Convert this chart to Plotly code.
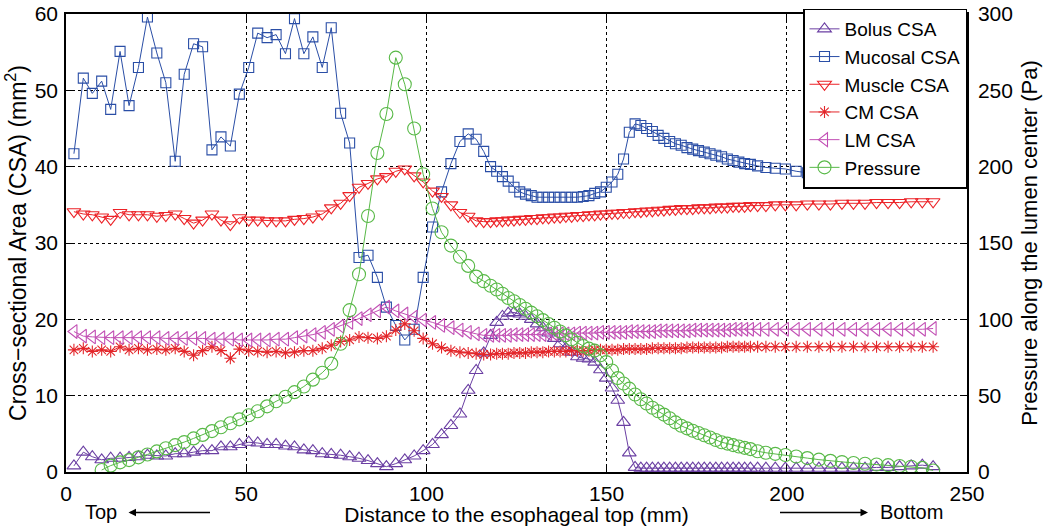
import plotly.graph_objects as go

# Distance along the esophagus (mm) — sampling grid shared by all series
dist_mm = [2.2, 4.8, 7.3, 9.9, 12.4, 15.0, 17.5, 20.1, 22.6, 25.2,
           27.7, 30.3, 32.8, 35.4, 37.9, 40.5, 43.0, 45.6, 48.1, 50.7,
           53.2, 55.8, 58.3, 60.9, 63.4, 66.0, 68.5, 71.1, 73.6, 76.2,
           78.7, 81.3, 83.8, 86.4, 88.9, 91.5, 94.0, 96.6, 99.1, 101.7,
           104.2, 106.8, 109.3,
           111.6, 113.8, 115.9, 117.8, 119.5,
           121.1, 122.7, 124.3, 125.9, 127.5, 129.1, 130.7, 132.3, 133.9, 135.5,
           137.1, 138.7, 140.3, 141.9, 143.5, 145.1, 146.7, 148.3, 149.9, 151.5,
           153.1, 154.7, 156.3, 157.9, 159.5, 161.1, 162.7, 164.3, 165.9, 167.5,
           169.1, 170.7, 172.3, 173.9, 175.5, 177.1, 178.7, 180.3, 181.9, 183.5,
           185.1, 186.7, 188.3, 189.9,
           191.9, 194.2, 196.8, 199.6, 202.6, 205.7, 208.9, 212.1, 215.3, 218.5,
           221.7, 224.9, 228.1, 231.3, 234.5, 237.6, 240.6]

bolus_csa = [0.8, 2.6, 2.0, 1.6, 1.8, 1.8, 1.9, 2.0, 2.2, 2.1,
             2.1, 2.4, 2.4, 2.6, 2.8, 2.8, 3.3, 3.3, 3.6, 3.9,
             3.8, 3.6, 3.6, 3.4, 3.3, 2.9, 2.8, 2.4, 2.3, 2.2,
             2.0, 1.8, 1.5, 1.1, 0.7, 1.1, 1.6, 2.1, 2.8, 3.6,
             4.9, 6.1, 7.6,
             10.7, 13.3, 15.6, 17.9, 19.6,
             20.4, 20.8, 20.9, 20.7, 20.4, 20.0, 19.4, 18.9, 18.2, 17.5,
             16.8, 16.2, 15.7, 15.1, 14.9, 14.8, 14.4, 13.4, 12.3, 11.0,
             9.4, 6.5, 2.5, 0.6, 0.5, 0.5, 0.5, 0.5, 0.5, 0.5,
             0.5, 0.5, 0.5, 0.5, 0.5, 0.5, 0.5, 0.5, 0.5, 0.5,
             0.5, 0.5, 0.5, 0.5,
             0.5, 0.5, 0.5, 0.5, 0.5, 0.5, 0.5, 0.5, 0.5, 0.5,
             0.5, 0.6, 0.6, 0.7, 0.8, 0.9, 0.7]

mucosal_csa = [41.7, 51.6, 49.6, 51.2, 47.5, 55.1, 48.0, 53.0, 59.6, 54.9,
               51.0, 40.7, 52.1, 56.1, 55.7, 42.2, 43.9, 42.7, 49.5, 53.0,
               57.5, 56.9, 57.3, 54.8, 59.4, 54.8, 57.0, 53.0, 58.2, 47.0,
               43.1, 28.1, 28.4, 25.5, 21.6, 19.2, 17.3, 18.7, 25.5, 32.1,
               36.7, 40.4, 43.3,
               44.3, 43.6, 42.0, 40.0, 39.4,
               38.7, 38.1, 37.3, 36.7, 36.4, 36.2, 36.0, 36.0, 36.0, 36.0,
               36.0, 36.0, 36.0, 36.0, 36.1, 36.2, 36.5, 36.7, 37.3, 38.0,
               39.0, 41.0, 44.5, 45.6, 45.4, 45.0, 44.6, 44.1, 43.7, 43.3,
               43.0, 42.8, 42.5, 42.3, 42.1, 41.9, 41.7, 41.5, 41.3, 41.0,
               40.8, 40.6, 40.4, 40.3,
               40.1, 39.9, 39.8, 39.7, 39.4, 39.2, 39.0, 38.9, 38.8, 38.7,
               38.7, 38.6, 38.5, 38.4, 38.4, 38.3, 39.4]

muscle_csa = [34.1, 33.8, 33.7, 33.4, 33.1, 34.0, 33.7, 33.7, 33.7, 33.5,
              33.6, 33.8, 33.2, 32.6, 33.0, 33.8, 33.0, 32.4, 33.3, 33.0,
              33.0, 32.9, 32.9, 32.9, 33.1, 33.2, 33.4, 33.8, 34.6, 35.2,
              36.2, 37.3, 37.8, 38.4, 38.7, 39.4, 39.7, 38.8, 38.0, 36.8,
              36.1, 35.0, 34.0,
              33.5, 32.9, 32.8, 32.8, 32.9,
              32.9, 33.0, 33.0, 33.1, 33.1, 33.2, 33.2, 33.3, 33.3, 33.4,
              33.4, 33.5, 33.5, 33.6, 33.6, 33.7, 33.7, 33.8, 33.8, 33.9,
              33.9, 34.0, 34.0, 34.1, 34.1, 34.2, 34.2, 34.3, 34.3, 34.4,
              34.4, 34.5, 34.5, 34.5, 34.6, 34.6, 34.6, 34.7, 34.7, 34.7,
              34.8, 34.8, 34.8, 34.9,
              34.9, 34.9, 35.0, 35.0, 35.0, 35.1, 35.1, 35.1, 35.2, 35.2,
              35.2, 35.3, 35.3, 35.3, 35.4, 35.4, 35.4]

cm_csa = [16.0, 16.2, 15.8, 16.0, 15.8, 16.4, 16.0, 16.2, 16.0, 16.1,
          16.0, 16.2, 15.8, 15.3, 15.9, 16.4, 15.9, 14.9, 16.1, 15.9,
          15.8, 15.7, 15.8, 15.6, 15.7, 15.9, 15.9, 16.2, 16.6, 17.1,
          17.3, 17.7, 17.6, 17.5, 17.8, 18.6, 19.4, 18.5, 17.5, 16.8,
          16.3, 15.9, 15.7,
          15.6, 15.5, 15.4, 15.4, 15.5,
          15.5, 15.5, 15.6, 15.6, 15.6, 15.7, 15.7, 15.7, 15.8, 15.8,
          15.8, 15.8, 15.9, 15.9, 15.9, 15.9, 16.0, 16.0, 16.0, 16.0,
          16.0, 16.1, 16.1, 16.1, 16.1, 16.1, 16.2, 16.2, 16.2, 16.2,
          16.2, 16.2, 16.3, 16.3, 16.3, 16.3, 16.3, 16.3, 16.3, 16.4,
          16.4, 16.4, 16.4, 16.4,
          16.4, 16.4, 16.4, 16.4, 16.4, 16.4, 16.4, 16.4, 16.4, 16.4,
          16.4, 16.4, 16.4, 16.4, 16.4, 16.4, 16.4]

lm_csa = [18.4, 17.8, 17.7, 17.6, 17.6, 17.6, 17.6, 17.6, 17.6, 17.6,
          17.5, 17.5, 17.5, 17.5, 17.5, 17.4, 17.4, 17.4, 17.3, 17.3,
          17.3, 17.3, 17.4, 17.4, 17.6, 17.8, 18.0, 18.3, 18.7, 19.1,
          19.6, 20.1, 20.6, 21.1, 21.6, 21.1, 20.7, 20.3, 19.9, 19.6,
          19.2, 18.9, 18.6,
          18.3, 18.1, 17.9, 17.9, 17.9,
          17.9, 17.9, 18.0, 18.0, 18.0, 18.0, 18.0, 18.0, 18.1, 18.1,
          18.1, 18.1, 18.1, 18.2, 18.2, 18.2, 18.2, 18.3, 18.3, 18.3,
          18.3, 18.3, 18.4, 18.4, 18.4, 18.4, 18.4, 18.5, 18.5, 18.5,
          18.5, 18.5, 18.5, 18.6, 18.6, 18.6, 18.6, 18.6, 18.6, 18.6,
          18.7, 18.7, 18.7, 18.7,
          18.7, 18.7, 18.7, 18.7, 18.7, 18.7, 18.7, 18.7, 18.7, 18.7,
          18.7, 18.7, 18.7, 18.7, 18.7, 18.7, 18.8]

pressure_pa = [None, None, None, 1.3, 4.2, 6.3, 7.8, 9.6, 11.5, 13.5,
               15.6, 17.6, 19.6, 22.0, 24.3, 26.8, 29.3, 31.9, 34.5, 37.2,
               39.8, 43.0, 46.3, 49.3, 52.3, 56.0, 60.5, 65.0, 71.0, 84.0,
               106.0, 129.5, 167.7, 209.0, 234.5, 271.4, 254.0, 225.0, 195.0, 172.6,
               157.0, 148.3, 141.0,
               135.0, 128.0, 125.0, 122.0, 119.5,
               116.8, 114.0, 111.8, 109.4, 106.9, 104.4, 102.0, 99.5, 96.9, 94.5,
               92.0, 89.5, 87.0, 84.7, 82.5, 80.8, 79.5, 76.5, 72.0, 66.5,
               61.5, 58.0, 54.6, 50.8, 47.7, 44.9, 42.1, 39.8, 37.6, 35.2,
               32.5, 30.3, 28.6, 27.0, 25.5, 24.1, 22.6, 21.0, 19.5, 18.6,
               17.6, 16.7, 15.8, 15.0,
               13.6, 12.6, 11.9, 11.1, 10.2, 9.1, 8.1, 7.3, 6.5, 5.9,
               5.4, 4.9, 4.5, 3.9, 3.4, 2.7, 1.0]

x_ticks = [0, 50, 100, 150, 200, 250]
csa_ticks = [0, 10, 20, 30, 40, 50, 60]
pressure_ticks = [0, 50, 100, 150, 200, 250, 300]

FONT = "Liberation Sans, Arial, sans-serif"

series = [
    ("Bolus CSA", bolus_csa, "triangle-up-open", "#6b3fa3", 12, "y"),
    ("Mucosal CSA", mucosal_csa, "square-open", "#2a4ea6", 10, "y"),
    ("Muscle CSA", muscle_csa, "triangle-down-open", "#ec2227", 12, "y"),
    ("CM CSA", cm_csa, "asterisk-open", "#e3262a", 10, "y"),
    ("LM CSA", lm_csa, "triangle-left-open", "#c24fb4", 12, "y"),
    ("Pressure", pressure_pa, "circle-open", "#58b947", 13, "y2"),
]

fig = go.Figure()
for name, vals, sym, col, size, yax in series:
    fig.add_trace(go.Scatter(
        x=dist_mm, y=vals, name=name, mode="lines+markers", yaxis=yax,
        line=dict(color=col, width=1),
        marker=dict(symbol=sym, size=size, color=col, line=dict(color=col, width=1.1)),
        connectgaps=False,
    ))

axis_common = dict(
    showline=True, linecolor="black", linewidth=1.5,
    ticks="inside", ticklen=6, tickcolor="black", tickwidth=1,
    tickfont=dict(family=FONT, size=21, color="black"),
    zeroline=False, automargin=False,
)

fig.update_layout(
    width=1050, height=526,
    margin=dict(l=66, r=83, t=8, b=54),
    plot_bgcolor="white", paper_bgcolor="white",
    font=dict(family=FONT, color="black"),
    showlegend=True,
    legend=dict(
        x=1, y=1.012, xanchor="right", yanchor="top",
        bgcolor="white", bordercolor="black", borderwidth=1.5,
        font=dict(family=FONT, size=19, color="black"),
        tracegroupgap=0, itemwidth=30,
    ),
    xaxis=dict(
        range=[0, 250], tickvals=x_ticks, mirror="ticks",
        showgrid=True, gridcolor="black", gridwidth=1, griddash="dot",
        ticklabelstandoff=2,
        title=dict(text="Distance to the esophageal top (mm)",
                   font=dict(family=FONT, size=21), standoff=2),
        **axis_common,
    ),
    yaxis=dict(
        range=[0, 60], tickvals=csa_ticks, mirror=False,
        showgrid=True, gridcolor="black", gridwidth=1, griddash="dot",
        ticklabelstandoff=2,
        title=dict(text="Cross\u2212sectional Area (CSA) (mm<sup>2</sup>)",
                   font=dict(family=FONT, size=23), standoff=2),
        **axis_common,
    ),
    yaxis2=dict(
        range=[0, 300], tickvals=pressure_ticks, overlaying="y", side="right",
        showgrid=False, ticklabelstandoff=5,
        title=dict(text="Pressure along the lumen center (Pa)",
                   font=dict(family=FONT, size=22), standoff=10),
        **axis_common,
    ),
)

# "Top" / "Bottom" direction labels with arrows below the x axis
y_lab = (472 - 513) / 464.0
fig.add_annotation(xref="paper", yref="paper", x=(210 - 66) / 901.0, y=y_lab,
                   text="Top", showarrow=True, arrowside="start",
                   ax=-(210 - 101), ay=0, axref="pixel", ayref="pixel",
                   startstandoff=10, arrowhead=2, startarrowhead=2,
                   arrowsize=1, startarrowsize=1, arrowwidth=1.5, arrowcolor="black",
                   font=dict(family=FONT, size=20))
fig.add_annotation(xref="paper", yref="paper", x=(780 - 66) / 901.0, y=y_lab,
                   text="Bottom", showarrow=True, arrowside="start",
                   ax=(911 - 780), ay=0, axref="pixel", ayref="pixel",
                   startstandoff=10, arrowhead=2, startarrowhead=2,
                   arrowsize=1, startarrowsize=1, arrowwidth=1.5, arrowcolor="black",
                   font=dict(family=FONT, size=20))

fig.write_html("out.html", config={"displayModeBar": False},
               post_script="document.body.style.margin='0';")
